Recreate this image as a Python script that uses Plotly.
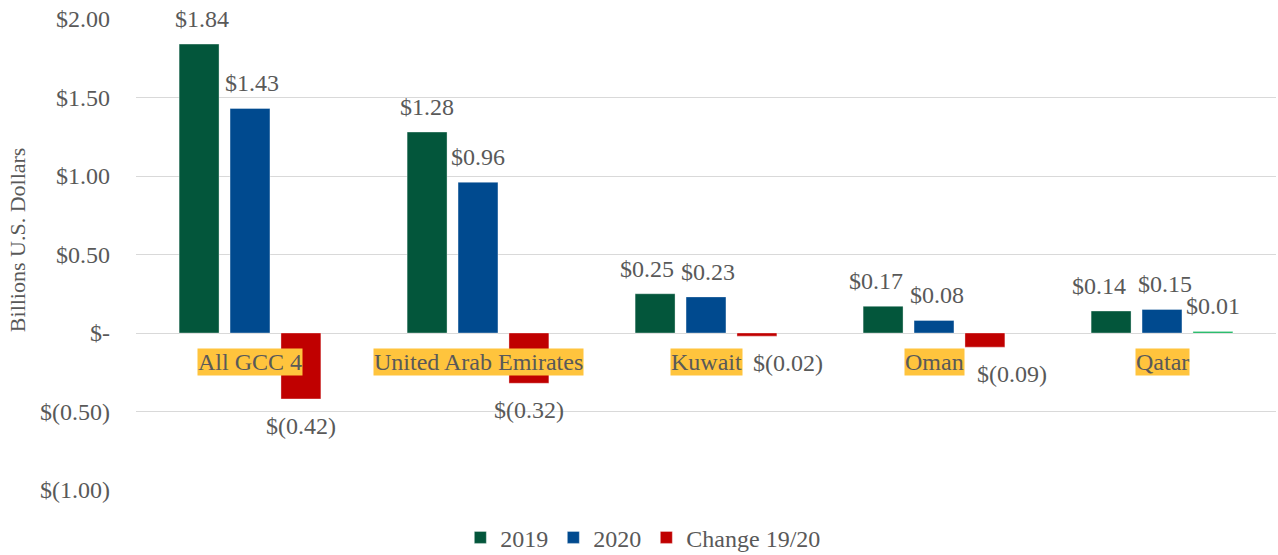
import plotly.graph_objects as go

categories = ["All GCC 4", "United Arab Emirates", "Kuwait", "Oman", "Qatar"]
values_2019 = [1.84, 1.28, 0.25, 0.17, 0.14]
values_2020 = [1.43, 0.96, 0.23, 0.08, 0.15]
values_change = [-0.42, -0.32, -0.02, -0.09, 0.01]
tick_vals = [-1.0, -0.5, 0.0, 0.5, 1.0, 1.5, 2.0]
tick_text = ["$(1.00)", "$(0.50)", "$-", "$0.50", "$1.00", "$1.50", "$2.00"]

# label x nudges (style, px) to keep neighbouring labels apart
label_xshift_2019 = [3, 0, -8, -7, -12]
label_xshift_2020 = [2, 0, 2, 3, 3]
label_xshift_change = [0, 0, 31, 27, 0]

FONT = "'Liberation Serif', 'Times New Roman', Times, serif"
TXT = "#595959"
GREEN = "#03563B"
BLUE = "#004A8F"
RED = "#C00000"
LIGHT_GREEN = "#00B050"


def fmt(v):
    if v < 0:
        return "$({:.2f})".format(abs(v))
    return "${:.2f}".format(v)


fig = go.Figure()
fig.add_trace(go.Bar(name="2019", x=categories, y=values_2019, marker_color=GREEN,
                     marker_line=dict(color="rgba(255,255,255,0.35)", width=1)))
fig.add_trace(go.Bar(name="2020", x=categories, y=values_2020, marker_color=BLUE,
                     marker_line=dict(color="rgba(255,255,255,0.35)", width=1)))
fig.add_trace(go.Bar(name="Change 19/20", x=categories, y=values_change,
                     marker_color=[RED if v < 0 else LIGHT_GREEN for v in values_change],
                     marker_line=dict(color="rgba(255,255,255,0.35)", width=1)))

annotations = []
offsets = [-1, 0, 1]
series = [(values_2019, label_xshift_2019), (values_2020, label_xshift_2020),
          (values_change, label_xshift_change)]
for si, (vals, xs) in enumerate(series):
    for i, v in enumerate(vals):
        annotations.append(dict(
            x=categories[i], y=v, xref="x", yref="y", text=fmt(v), showarrow=False,
            xshift=offsets[si] * 51 + xs[i], yshift=25 if v >= 0 else -27,
            font=dict(family=FONT, size=24, color=TXT)))

for c in categories:
    annotations.append(dict(
        x=c, y=0, xref="x", yref="y", text=c, showarrow=False, yshift=-29,
        bgcolor="#FFC43D", borderpad=0,
        font=dict(family=FONT, size=24, color=TXT)))

annotations.append(dict(
    x=-0.1033, y=0.531, xref="paper", yref="paper", text="Billions U.S. Dollars",
    textangle=-90, showarrow=False, xanchor="center", yanchor="middle",
    font=dict(family=FONT, size=22, color=TXT)))

fig.update_layout(
    width=1278, height=555,
    margin=dict(l=136, r=2, t=19, b=65),
    paper_bgcolor="white", plot_bgcolor="white",
    barmode="group", bargap=0.33, bargroupgap=0.216,
    font=dict(family=FONT, size=24, color=TXT),
    xaxis=dict(showticklabels=False, showline=False, showgrid=False, zeroline=False),
    yaxis=dict(range=[-1.0, 2.0], tickvals=tick_vals, ticktext=tick_text,
               showgrid=True, gridcolor="#D9D9D9", gridwidth=1,
               zeroline=True, zerolinecolor="#D9D9D9", zerolinewidth=1,
               showline=False, ticks="", ticklabelstandoff=25,
               tickfont=dict(family=FONT, size=24, color=TXT)),
    legend=dict(orientation="h", xref="container", x=0.503, xanchor="center",
                yref="container", y=0.031, yanchor="middle",
                font=dict(family=FONT, size=24, color=TXT), itemwidth=30,
                traceorder="normal"),
    annotations=annotations,
    showlegend=True,
)

fig.write_html("out.html", config={"displayModeBar": False},
               post_script="document.body.style.margin='0px';")
